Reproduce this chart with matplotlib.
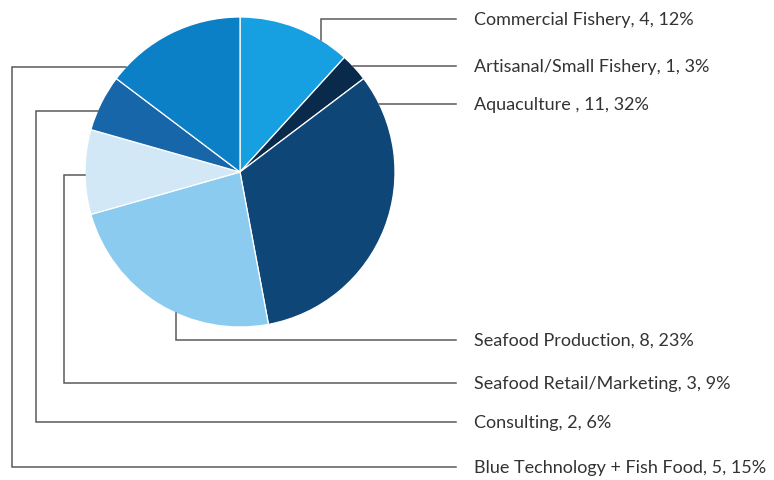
#!/usr/bin/env python3
"""Pie chart of respondents by sector, with elbow leader lines to the labels."""
import numpy as np
import matplotlib
matplotlib.use("Agg")
import matplotlib.pyplot as plt

sectors = [
    "Commercial Fishery",
    "Artisanal/Small Fishery",
    "Aquaculture ",
    "Seafood Production",
    "Seafood Retail/Marketing",
    "Consulting",
    "Blue Technology + Fish Food",
]
counts = [4, 1, 11, 8, 3, 2, 5]
percents = [12, 3, 32, 23, 9, 6, 15]
colors = ["#16a0e2", "#0a2a4c", "#0e4677", "#8ccbf0", "#d2e8f6", "#1666a9", "#0c80c6"]

# layout in pixel space (origin top-left)
W, H = 774, 480
CX, CY, R = 240, 172, 155
LINE_END, TEXT_X = 456, 474
label_y = [19, 66, 104, 340, 383, 422, 467]
anchor_deg = [58.5, 43.0, 26.0, -114.4, 181.0, 156.8, 137.4]  # where each leader leaves the pie
elbow_x = [None, None, None, None, 64, 36, 12]


def to_plot(x, y):
    return x, H - y


fig = plt.figure(figsize=(W / 100, H / 100), dpi=100)
ax = fig.add_axes([0, 0, 1, 1])
ax.set_xlim(0, W)
ax.set_ylim(0, H)
ax.set_aspect("equal")
ax.axis("off")

ax.pie(
    counts,
    colors=colors,
    startangle=90,
    counterclock=False,
    center=to_plot(CX, CY),
    radius=R,
    wedgeprops={"edgecolor": "white", "linewidth": 0.9},
    frame=False,
)
ax.set_xlim(0, W)
ax.set_ylim(0, H)

for name, n, pct, ly, ang, ex in zip(sectors, counts, percents, label_y, anchor_deg, elbow_x):
    a = np.radians(ang)
    px, py = CX + R * np.cos(a), CY - R * np.sin(a)
    if ex is not None:
        xs, ys = [px, ex, ex, LINE_END], [py, py, ly, ly]
    elif abs(py - ly) > 2:
        xs, ys = [px, px, LINE_END], [py, ly, ly]
    else:
        xs, ys = [px, LINE_END], [ly, ly]
    pts = [to_plot(x, y) for x, y in zip(xs, ys)]
    ax.plot([p[0] for p in pts], [p[1] for p in pts], color="#5a5a5a", lw=1.1,
            solid_joinstyle="miter", zorder=1)
    ax.text(TEXT_X, H - ly - 1, f"{name}, {n}, {pct}%", ha="left", va="center",
            fontsize=13, family="Lato", color="#333333")

fig.savefig("out.png", dpi=100, facecolor="white")
